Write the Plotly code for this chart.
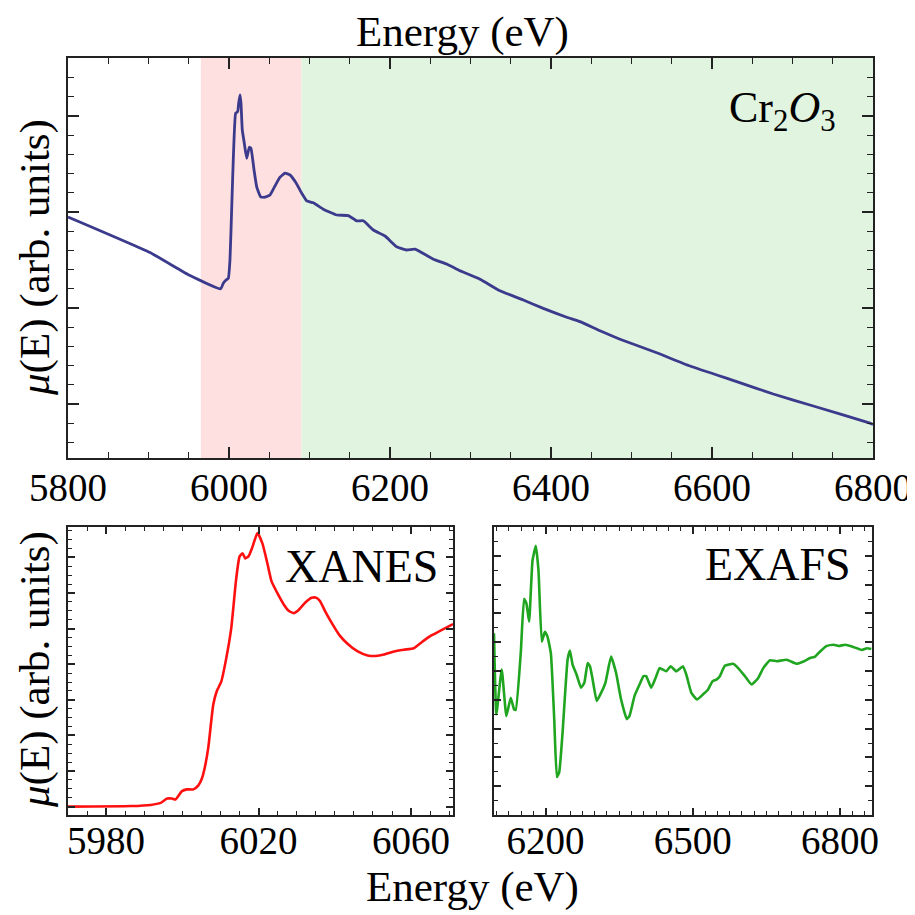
import plotly.graph_objects as go

# ---------------- data ----------------
# Full spectrum (Cr2O3), energy in eV, mu in arb. units
full_energy = [5800, 5901.9, 5951.6, 5989.7, 5992.9, 5996.3, 5999.1, 6001.2, 6003.4, 6005.3,
               6008.3, 6010.8, 6012.0, 6013.7, 6014.9, 6016.5, 6019.0, 6022.0, 6025.2, 6027.3,
               6031.1, 6034.4, 6039.4, 6044.7, 6050.9, 6057.1, 6063.4, 6069.6, 6075.8, 6083.2,
               6090.3, 6096.5, 6104.7, 6117.1, 6133.8, 6148.2, 6158.6, 6166.8, 6179.3, 6193.8,
               6208.3, 6220.7, 6231.1, 6253.8, 6270.4, 6287.0, 6311.8, 6336.6, 6365.6, 6390.4,
               6419.5, 6436.0, 6460.9, 6485.7, 6531.3, 6572.7, 6630.7, 6676.1, 6725.8, 6796.3, 6800]
full_mu = [0.6025, 0.5135, 0.456, 0.423, 0.437, 0.445, 0.449, 0.495, 0.628, 0.745,
           0.862, 0.866, 0.887, 0.9075, 0.887, 0.82, 0.787, 0.749, 0.777, 0.774,
           0.72, 0.678, 0.653, 0.652, 0.6575, 0.68, 0.702, 0.712, 0.7075, 0.688,
           0.662, 0.643, 0.638, 0.622, 0.6075, 0.606, 0.593, 0.593, 0.57, 0.555,
           0.528, 0.52, 0.522, 0.497, 0.485, 0.468, 0.447, 0.418, 0.395, 0.374,
           0.352, 0.341, 0.318, 0.297, 0.263, 0.23, 0.191, 0.16, 0.13, 0.087, 0.084]

# XANES region
xanes_energy = [5970.0, 5986.5, 5991.7, 5994.3, 5996.0, 5997.3, 5998.2, 5999.9, 6001.2, 6002.9,
                6004.2, 6005.1, 6005.9, 6006.8, 6008.1, 6009.0, 6010.2, 6011.5, 6012.8, 6014.1,
                6015.0, 6015.8, 6016.5, 6017.4, 6018.4, 6019.7, 6021.0, 6022.3, 6023.4, 6024.9,
                6026.6, 6027.9, 6029.2, 6030.5, 6032.2, 6033.9, 6035.2, 6036.1, 6037.4, 6039.1,
                6041.3, 6043.4, 6046.0, 6048.6, 6050.7, 6052.9, 6055.5, 6058.1, 6060.7, 6062.8,
                6065.0, 6067.6, 6071.0]
xanes_mu = [0.029, 0.031, 0.035, 0.042, 0.057, 0.057, 0.054, 0.083, 0.089, 0.089,
            0.103, 0.126, 0.166, 0.234, 0.383, 0.429, 0.463, 0.543, 0.646, 0.817,
            0.897, 0.909, 0.891, 0.899, 0.931, 0.979, 0.943, 0.874, 0.811, 0.771,
            0.731, 0.709, 0.701, 0.712, 0.737, 0.754, 0.754, 0.743, 0.709, 0.669,
            0.623, 0.594, 0.568, 0.554, 0.552, 0.557, 0.568, 0.574, 0.579, 0.600,
            0.621, 0.639, 0.663]

# EXAFS region
exafs_energy = [6095.0, 6099.8, 6110.7, 6120.2, 6129.1, 6135.9, 6139.3, 6149.5, 6156.3, 6161.1,
                6166.5, 6173.4, 6180.2, 6185.6, 6192.4, 6198.6, 6204.0, 6210.8, 6217.7, 6223.1,
                6227.9, 6234.7, 6244.9, 6249.7, 6255.1, 6263.3, 6272.2, 6279.0, 6285.8, 6290.6,
                6296.0, 6304.2, 6313.1, 6321.9, 6333.5, 6343.7, 6353.9, 6365.5, 6371.0, 6381.2,
                6391.4, 6399.6, 6405.0, 6415.3, 6425.5, 6432.3, 6445.9, 6454.8, 6466.4, 6480.0,
                6486.8, 6497.0, 6508.6, 6520.9, 6531.1, 6540.0, 6548.1, 6555.0, 6565.2, 6582.2,
                6592.4, 6606.1, 6619.7, 6633.3, 6643.5, 6657.2, 6670.8, 6691.2, 6711.7, 6725.3,
                6738.9, 6749.2, 6759.4, 6773.0, 6786.6, 6796.9, 6810.5, 6824.1, 6834.3, 6844.6,
                6854.8, 6863.6]
exafs_mu = [0.631, 0.350, 0.505, 0.344, 0.407, 0.367, 0.365, 0.562, 0.751, 0.734,
            0.671, 0.883, 0.935, 0.849, 0.602, 0.636, 0.619, 0.562, 0.333, 0.132,
            0.149, 0.287, 0.539, 0.571, 0.522, 0.487, 0.442, 0.459, 0.528, 0.516,
            0.470, 0.396, 0.424, 0.459, 0.550, 0.493, 0.401, 0.333, 0.344, 0.413,
            0.453, 0.482, 0.482, 0.442, 0.482, 0.510, 0.499, 0.516, 0.499, 0.516,
            0.487, 0.424, 0.401, 0.419, 0.436, 0.464, 0.470, 0.482, 0.518, 0.525,
            0.510, 0.482, 0.453, 0.476, 0.510, 0.537, 0.534, 0.539, 0.525, 0.533,
            0.545, 0.550, 0.568, 0.587, 0.591, 0.587, 0.591, 0.585, 0.579, 0.573,
            0.579, 0.576]

# shaded regions (eV)
xanes_region = [5965, 6090]
exafs_region = [6090, 6800]

top_ticks = [5800, 6000, 6200, 6400, 6600, 6800]
xanes_ticks = [5980, 6020, 6060]
exafs_ticks = [6200, 6500, 6800]

# ---------------- figure ----------------
OFF = 8            # page body margin of the html page
W = H = 915 - OFF
FONT = "Liberation Serif, Times New Roman, serif"
AX = "#222222"


def px(x):
    return (x - OFF) / W


def py(y):
    return 1 - (y - OFF) / H


fig = go.Figure()
fig.add_trace(go.Scatter(x=full_energy, y=full_mu, mode="lines",
                         line=dict(color="#3b3a8c", width=2.8, shape="spline", smoothing=0.4),
                         xaxis="x", yaxis="y", showlegend=False))
fig.add_trace(go.Scatter(x=xanes_energy, y=xanes_mu, mode="lines",
                         line=dict(color="#ff1010", width=2.6, shape="spline", smoothing=0.5),
                         xaxis="x2", yaxis="y2", showlegend=False))
fig.add_trace(go.Scatter(x=exafs_energy, y=exafs_mu, mode="lines",
                         line=dict(color="#1fa51f", width=2.6, shape="spline", smoothing=0.4),
                         xaxis="x3", yaxis="y3", showlegend=False))

fig.add_shape(type="rect", xref="x", yref="y domain", x0=xanes_region[0], x1=xanes_region[1],
              y0=0, y1=1, fillcolor="#fde0df", line=dict(width=0), layer="below")
fig.add_shape(type="rect", xref="x", yref="y domain", x0=exafs_region[0], x1=exafs_region[1],
              y0=0, y1=1, fillcolor="#e1f4df", line=dict(width=0), layer="below")

tickfont = dict(family=FONT, size=39, color="black")


def xax(domain, rng, tickvals, minor_dtick, anchor, tlen, mlen, standoff):
    return dict(domain=domain, range=rng, anchor=anchor, tickvals=tickvals,
                ticks="inside", ticklen=tlen, tickwidth=1.5, tickcolor=AX,
                ticklabelstandoff=standoff,
                minor=dict(dtick=minor_dtick, tick0=5800, ticks="inside", ticklen=mlen,
                           tickwidth=1.2, tickcolor=AX, showgrid=False),
                showline=True, linecolor=AX, linewidth=1.6, mirror="ticks", automargin=False,
                showgrid=False, zeroline=False, tickfont=tickfont, fixedrange=True)


def yax(domain, t0, dt, mdt, anchor, tlen, mlen):
    return dict(domain=domain, range=[0, 1], anchor=anchor, tick0=t0, dtick=dt,
                ticks="inside", ticklen=tlen, tickwidth=1.5, tickcolor=AX,
                minor=dict(dtick=mdt, tick0=t0, ticks="inside", ticklen=mlen,
                           tickwidth=1.2, tickcolor=AX, showgrid=False),
                showticklabels=False, showline=True, linecolor=AX, linewidth=1.6,
                mirror="ticks", showgrid=False, zeroline=False, fixedrange=True,
                automargin=False)


fig.update_layout(
    template="none",
    width=W, height=H, margin=dict(l=0, r=0, t=0, b=0, pad=0),
    paper_bgcolor="white", plot_bgcolor="rgba(0,0,0,0)",
    xaxis=xax([px(68), px(873)], [5800, 6800], top_ticks, 50, "y", 11, 6, -6),
    yaxis=yax([py(458), py(58)], 0.135, 0.24, 0.048, "x", 11, 6),
    xaxis2=xax([px(68), px(453)], [5970, 6071], xanes_ticks, 5, "y2", 7, 4, -10),
    yaxis2=yax([py(815), py(527)], 0.029, 0.1237, 0.0309, "x2", 7, 4),
    xaxis3=xax([px(494), px(872)], [6095, 6865], exafs_ticks, 25, "y3", 7, 4, -10),
    yaxis3=yax([py(815), py(527)], 0.0, 0.1, 0.05, "x3", 7, 4),
)

lab = dict(family=FONT, size=43, color="black")
anns = [
    dict(text="Energy (eV)", x=px(463), y=py(32), font=lab),
    dict(text="Energy (eV)", x=px(472), y=py(887), font=lab),
    dict(text="<i>μ</i>(E) (arb. units)", x=px(35), y=py(258), font=lab, textangle=-90),
    dict(text="<i>μ</i>(E) (arb. units)", x=px(35), y=py(670), font=lab, textangle=-90),
    dict(text="Cr<sub>2</sub><i>O</i><sub>3</sub>", x=px(838), y=py(110), font=dict(family=FONT, size=44, color="black"), xanchor="right"),
    dict(text="XANES", x=px(440), y=py(566), font=dict(family=FONT, size=46, color="black"), xanchor="right"),
    dict(text="EXAFS", x=px(853), y=py(564), font=dict(family=FONT, size=46, color="black"), xanchor="right"),
]
for a in anns:
    a.setdefault("xanchor", "center")
    fig.add_annotation(xref="paper", yref="paper", showarrow=False, yanchor="middle", **a)

fig.write_html("out.html")
